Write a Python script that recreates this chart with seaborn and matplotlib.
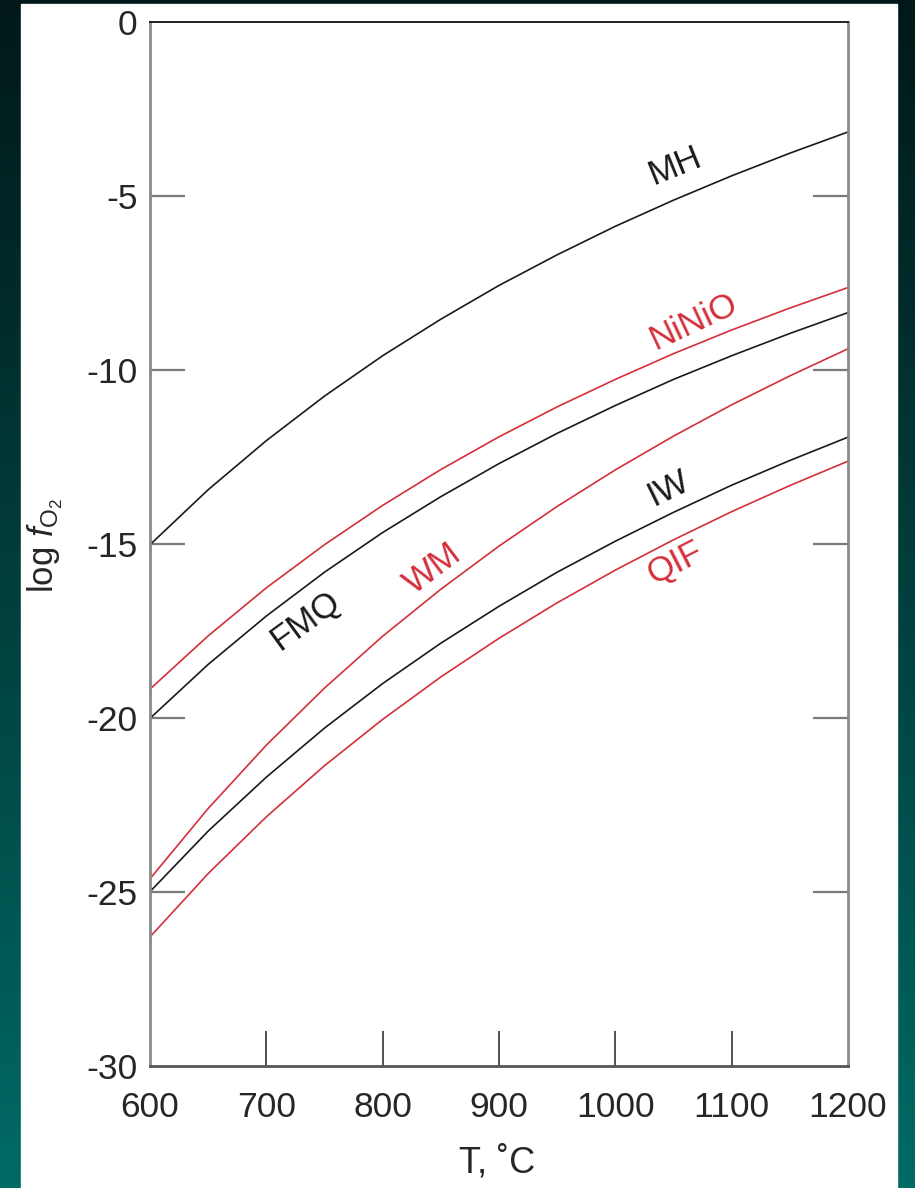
import numpy as np
import pandas as pd
import matplotlib
matplotlib.use("Agg")
import matplotlib.pyplot as plt
import seaborn as sns
from matplotlib.colors import LinearSegmentedColormap
from matplotlib.patches import Rectangle

# --- Data (log fO2 vs T in deg C) ---
temps = [600, 650, 700, 750, 800, 850, 900, 950, 1000, 1050, 1100, 1150, 1200]

mh = [-15.02, -13.44, -12.03, -10.75, -9.59, -8.54, -7.57, -6.69, -5.87, -5.12, -4.42, -3.77, -3.16]
ninio = [-19.17, -17.64, -16.26, -15.02, -13.89, -12.86, -11.92, -11.06, -10.27, -9.53, -8.85, -8.22, -7.63]
fmq = [-20.01, -18.46, -17.07, -15.81, -14.67, -13.64, -12.69, -11.82, -11.02, -10.27, -9.59, -8.95, -8.35]
wm = [-24.62, -22.60, -20.78, -19.14, -17.65, -16.30, -15.06, -13.92, -12.87, -11.90, -11.00, -10.17, -9.39]
iw = [-24.99, -23.25, -21.70, -20.29, -19.01, -17.85, -16.79, -15.81, -14.92, -14.09, -13.31, -12.60, -11.93]
qif = [-26.29, -24.47, -22.84, -21.37, -20.04, -18.82, -17.71, -16.69, -15.75, -14.88, -14.07, -13.32, -12.62]

buffers = ["MH", "NiNiO", "FMQ", "WM", "IW", "QIF"]
series = [mh, ninio, fmq, wm, iw, qif]

x_ticks = [600, 700, 800, 900, 1000, 1100, 1200]
y_ticks = [0, -5, -10, -15, -20, -25, -30]

RED = "#d42f3b"
BLACK = "#1a1a1a"
palette = {"MH": BLACK, "NiNiO": RED, "FMQ": BLACK, "WM": RED, "IW": BLACK, "QIF": RED}

# long table for seaborn
df = pd.DataFrame({
    "T": temps * len(buffers),
    "logfO2": sum(series, []),
    "buffer": np.repeat(buffers, len(temps)),
})

sns.set_style("white")
plt.rcParams["font.family"] = ["Liberation Sans", "DejaVu Sans"]
plt.rcParams["mathtext.fontset"] = "custom"
plt.rcParams["mathtext.rm"] = "Liberation Sans"
plt.rcParams["mathtext.it"] = "Liberation Sans:italic"
plt.rcParams["axes.unicode_minus"] = False

W, H = 915, 1188
fig = plt.figure(figsize=(W / 100, H / 100), dpi=100)

# --- background: dark teal gradient + white panel ---
bg = fig.add_axes([0, 0, 1, 1], zorder=-10)
grad_cmap = LinearSegmentedColormap.from_list("bg", ["#001818", "#003f3d", "#006a65"])
bg.imshow(np.linspace(0, 1, 256).reshape(-1, 1), aspect="auto", cmap=grad_cmap,
          extent=[0, 1, 0, 1], origin="upper")
bg.add_patch(Rectangle((21 / W, 0), (897 - 21) / W, 1 - 4 / H, color="white"))
bg.set_xlim(0, 1)
bg.set_ylim(0, 1)
bg.axis("off")

# --- main plot ---
ax = fig.add_axes([150 / W, 1 - 1066 / H, (848 - 150) / W, (1066 - 22) / H])
ax.set_facecolor("white")

sns.lineplot(data=df, x="T", y="logfO2", hue="buffer", palette=palette,
             linewidth=1.2, legend=False, ax=ax, sort=False)

ax.set_xlim(600, 1200)
ax.set_ylim(-30, 0)
ax.set_xticks(x_ticks)
ax.set_yticks(y_ticks)
ax.set_xlabel("")
ax.set_ylabel("")

for side in ["left", "right"]:
    ax.spines[side].set_color("#8a8a8a")
    ax.spines[side].set_linewidth(2.0)
ax.spines["top"].set_color("#111111")
ax.spines["top"].set_linewidth(1.3)
ax.spines["bottom"].set_color("#555555")
ax.spines["bottom"].set_linewidth(2.0)
for s in ax.spines.values():
    s.set_visible(True)

ax.tick_params(axis="y", direction="in", length=25, width=1.6, color="#7a7a7a",
               left=True, right=True, labelsize=25.5, pad=9)
ax.tick_params(axis="x", direction="in", length=25, width=1.2, color="#333333",
               bottom=True, top=False, labelsize=25.5, pad=18)

# hide tick marks sitting on the frame
for t in [ax.xaxis.get_major_ticks()[0], ax.xaxis.get_major_ticks()[-1]]:
    t.tick1line.set_visible(False)
for t in [ax.yaxis.get_major_ticks()[0], ax.yaxis.get_major_ticks()[-1]]:
    t.tick1line.set_visible(False)
    t.tick2line.set_visible(False)

# curve labels
labels = [
    ("MH", 1051, -4.15, 22, BLACK),
    ("NiNiO", 1067, -8.6, 25, RED),
    ("FMQ", 733, -17.2, 36, BLACK),
    ("WM", 843, -15.7, 37, RED),
    ("IW", 1046, -13.4, 26, BLACK),
    ("QIF", 1051, -15.55, 27, RED),
]
for name, tx, ty, rot, col in labels:
    ax.text(tx, ty, name, rotation=rot, color=col, fontsize=25,
            ha="center", va="center", rotation_mode="anchor")

fig.text(497 / W, 1 - 1163 / H, "T, \u02daC", fontsize=26, ha="center", va="center")
fig.text(45 / W, 1 - 545 / H, r"log $f_{\mathrm{O}_2}$", fontsize=25, rotation=90,
         ha="center", va="center")

fig.savefig("out.png", dpi=100)
